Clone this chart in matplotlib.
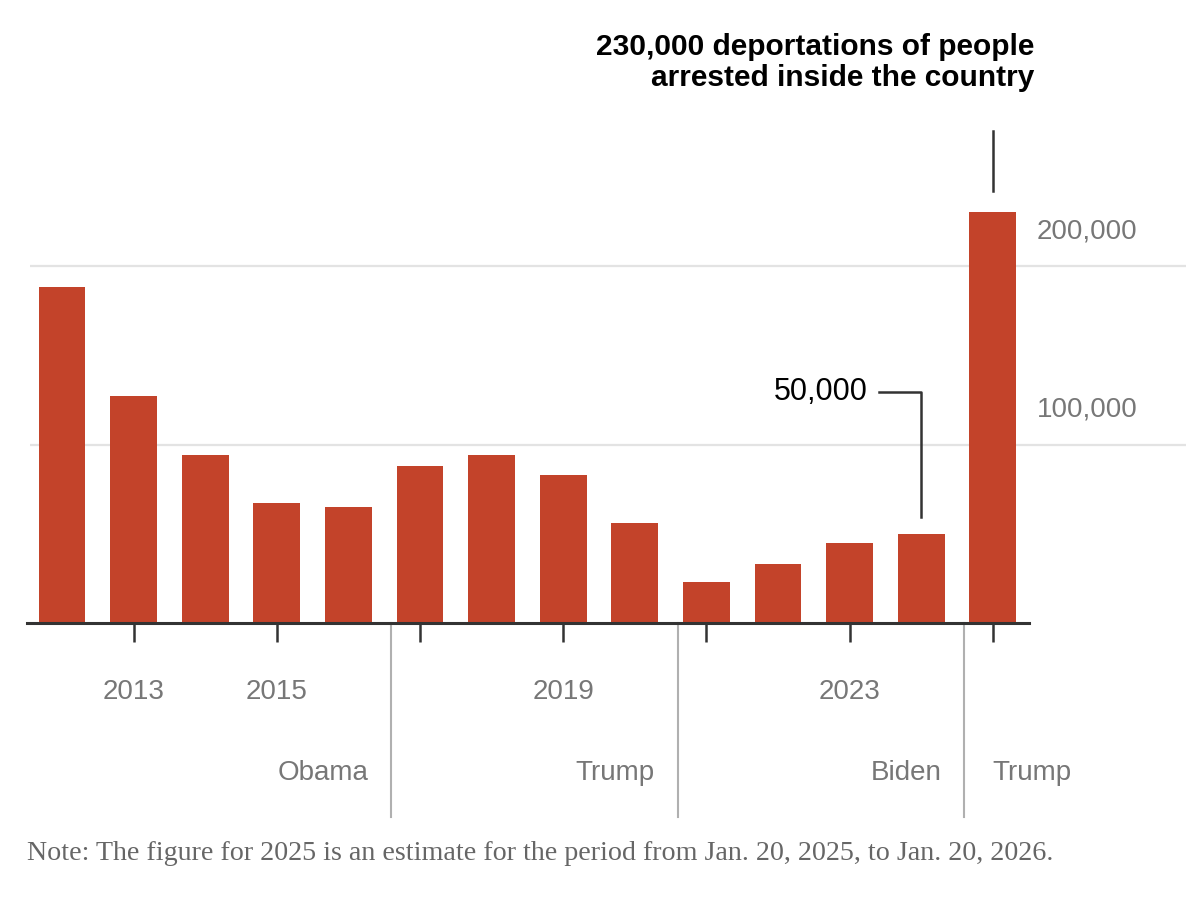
import numpy as np
import matplotlib
matplotlib.use("Agg")
import matplotlib.pyplot as plt

# deportations of people arrested in the interior, by year
years = [2012, 2013, 2014, 2015, 2016, 2017, 2018, 2019, 2020, 2021, 2022, 2023, 2024, 2025]
deportations = [188000, 127000, 94000, 67000, 65000, 88000, 94000, 83000, 56000, 23000, 33000, 45000, 50000, 230000]

tick_years = [2013, 2015, 2017, 2019, 2021, 2023, 2025]
tick_labels = ['2013', '2015', '', '2019', '', '2023', '']
grid_values = [100000, 200000]
grid_labels = ['100,000', '200,000']

# presidential terms, the label sits left of the divider
terms = ['Obama', 'Trump', 'Biden']
term_ends = [2016.6, 2020.6, 2024.6]
last_term = 'Trump'

bar_color = '#c3432a'
gray = '#777777'

plt.rcParams['font.family'] = ['Liberation Sans', 'DejaVu Sans']

W, H = 1186, 924
fig = plt.figure(figsize=(W / 100, H / 100), dpi=100)
ax = fig.add_axes([0, 0, 1, 1])

# pixel layout: bar 2012 centred at x=62, 71.6 px per year, baseline at y=623, 178.5 px per 100k
px_year = 71.6
px_100k = 178.5
ax.set_xlim(2012 - 62 / px_year, 2012 + (W - 62) / px_year)
ax.set_ylim(-(H - 623) / px_100k * 1e5, 623 / px_100k * 1e5)


def dx(px):
    return px / px_year


def dy(px):
    return px / px_100k * 1e5


ax.bar(years, deportations, width=0.656, color=bar_color, zorder=3)

for v in grid_values:
    ax.hlines(v, 2012 - dx(32), ax.get_xlim()[1], color='#e3e3e3', lw=1.6, zorder=1)

for v, lab in zip(grid_values, grid_labels):
    ax.text(years[-1] + dx(44), v + dy(35), lab, ha='left', va='center',
            fontsize=20, color=gray)

# baseline and ticks
for s in ['top', 'right', 'left']:
    ax.spines[s].set_visible(False)
ax.spines['bottom'].set_position(('data', 0))
ax.spines['bottom'].set_bounds(2012 - dx(35), years[-1] + dx(36))
ax.spines['bottom'].set_color('#333333')
ax.spines['bottom'].set_linewidth(2.2)
ax.spines['bottom'].set_zorder(4)
ax.set_yticks([])
ax.set_xticks(tick_years)
ax.set_xticklabels(tick_labels)
ax.tick_params(axis='x', direction='out', length=13.5, width=1.8, color='#333333',
               pad=27, labelsize=20, labelcolor=gray)

# presidential term dividers
for xe in term_ends:
    ax.plot([xe, xe], [0, -dy(817 - 623)], color='#b0b0b0', lw=1.5, zorder=2, clip_on=False)
for name, xe in zip(terms, term_ends):
    ax.text(xe - dx(23), -dy(773 - 623), name, ha='right', va='center', fontsize=20, color=gray)
ax.text(term_ends[-1] + dx(28), -dy(773 - 623), last_term, ha='left', va='center',
        fontsize=20, color=gray)

# annotation on 2025 bar
top25 = deportations[-1]
ax.plot([years[-1], years[-1]], [top25 + dy(21), top25 + dy(81)], color='#333333', lw=1.8)
ax.text(years[-1] + dx(42), top25 + dy(150), '230,000 deportations of people\narrested inside the country',
        ha='right', va='center', fontsize=21.5, fontweight='bold', color='black',
        linespacing=1.17, multialignment='right')

# annotation on 2024 bar
top24 = deportations[-2]
yl = top24 + dy(534 - 392)
ax.plot([years[-2] - dx(42), years[-2], years[-2]], [yl, yl, top24 + dy(17)],
        color='#333333', lw=1.8)
ax.text(years[-2] - dx(53), yl, '50,000', ha='right', va='center', fontsize=22, color='black')

fig.text(27 / W, 1 - 854 / H,
         'Note: The figure for 2025 is an estimate for the period from Jan. 20, 2025, to Jan. 20, 2026.',
         ha='left', va='center', fontsize=20.2, color='#666666', family=['Liberation Serif', 'DejaVu Serif'])

fig.savefig('out.png', dpi=100, facecolor='white')
